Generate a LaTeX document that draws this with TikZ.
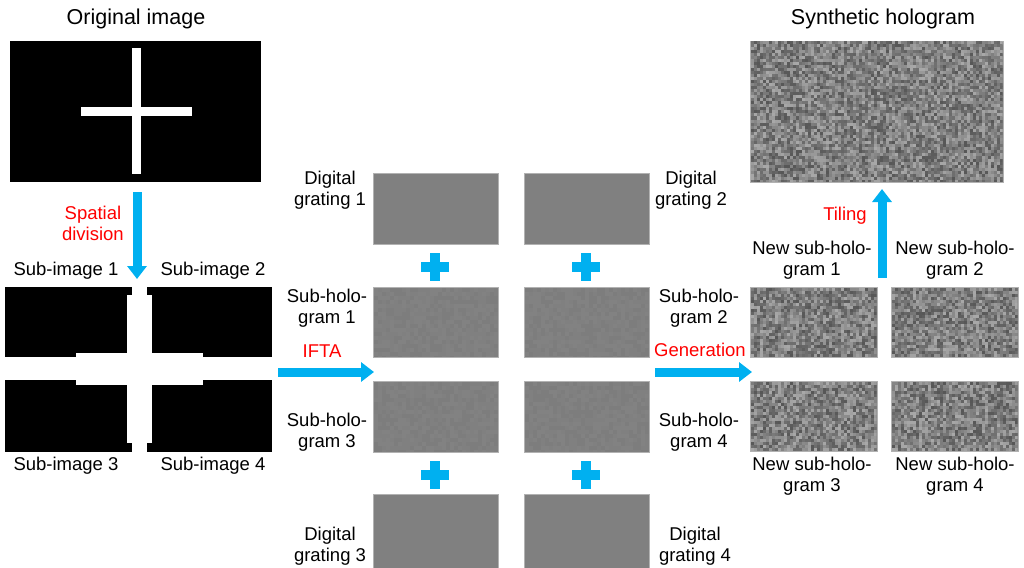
\documentclass[tikz,border=0pt]{standalone}
\usepackage{fontspec}
\setmainfont{Liberation Sans}
\usetikzlibrary{arrows.meta}
\definecolor{arrowblue}{RGB}{0,176,240}
\definecolor{labred}{RGB}{255,0,0}
\newcommand\mynoise[7]{% x0 y0 w h lo hi cell
  \begin{scope}
    \clip (#1,#2) rectangle ++(#3,#4);
    \foreach \i in {0,#7,...,#3} {
      \foreach \j in {0,#7,...,#4} {
        \pgfmathrandominteger{\g}{#5}{#6}
        \fill[black!\g] (#1+\i,#2+\j) rectangle ++(#7+0.3,#7+0.3);
      }
    }
  \end{scope}}
\begin{document}
\begin{tikzpicture}[x=1pt,y=-1pt,
  lab/.style={font=\fontsize{18.5}{21}\selectfont, align=center, inner sep=0pt},
  ttl/.style={font=\fontsize{21.5}{24}\selectfont, inner sep=0pt},
  redlab/.style={lab, text=labred},
  img/.style={inner sep=0pt, outer sep=0pt, anchor=north west},
  blk/.style={img, fill=black},
  grayimg/.style={img, fill=black!50, draw=black!30, line width=0.8pt},
  bigarrow/.style={draw=arrowblue, line width=9pt, -{Triangle[length=13pt 0 0,width=19pt 0 0]}},
  plus/.style={minimum size=28pt, inner sep=0pt, path picture={
     \fill[arrowblue] ([xshift=-14pt,yshift=5pt]path picture bounding box.center) rectangle ++(28,10);
     \fill[arrowblue] ([xshift=-5pt,yshift=14pt]path picture bounding box.center) rectangle ++(10,28);}}
]
\useasboundingbox (0,0) rectangle (1024,567);
\pgfmathsetseed{7}

% Titles
\node[ttl] (t1) at (136,19) {Original image};
\node[ttl] (t2) at (883,19) {Synthetic hologram};

% Original image
\node[blk, minimum width=251pt, minimum height=141pt] (orig) at (10,41) {};
\fill[white] (132,48) rectangle (141,174);
\fill[white] (81,107) rectangle (192,116);

% Spatial division arrow
\coordinate (d1) at (137,192);
\coordinate (d2) at (137,279);
\draw[bigarrow] (d1) -- (d2);
\node[redlab, anchor=east] (sd) at (124,223) {Spatial\\division};

% Sub-images
\node[lab] (si1) at (66,271) {Sub-image 1};
\node[lab] (si2) at (213,271) {Sub-image 2};
\node[lab] (si3) at (66,466) {Sub-image 3};
\node[lab] (si4) at (213,466) {Sub-image 4};
\node[blk, minimum width=127pt, minimum height=70pt] (s1) at (5,287) {};
\node[blk, minimum width=125pt, minimum height=70pt] (s2) at (147,287) {};
\node[blk, minimum width=127pt, minimum height=72pt] (s3) at (5,380) {};
\node[blk, minimum width=125pt, minimum height=72pt] (s4) at (147,380) {};
\fill[white] (127,295) rectangle (132,357);
\fill[white] (76,353) rectangle (132,357);
\fill[white] (147,295) rectangle (152,357);
\fill[white] (147,353) rectangle (203,357);
\fill[white] (76,380) rectangle (132,385);
\fill[white] (127,380) rectangle (132,443);
\fill[white] (147,380) rectangle (203,385);
\fill[white] (147,380) rectangle (152,443);

% IFTA arrow
\coordinate (i1) at (278,372);
\coordinate (i2) at (374,372);
\draw[bigarrow] (i1) -- (i2);
\node[redlab] (ifta) at (322,351) {IFTA};

% Middle column images
\node[grayimg, minimum width=125pt, minimum height=71pt] (dg1) at (373,173) {};
\node[grayimg, minimum width=125pt, minimum height=71pt] (dg2) at (524,173) {};
\node[grayimg, minimum width=125pt, minimum height=70pt] (sh1) at (373,287) {};
\node[grayimg, minimum width=125pt, minimum height=70pt] (sh2) at (524,287) {};
\node[grayimg, minimum width=125pt, minimum height=71pt] (sh3) at (373,381) {};
\node[grayimg, minimum width=125pt, minimum height=71pt] (sh4) at (524,381) {};
\node[grayimg, minimum width=125pt, minimum height=74pt] (dg3) at (373,494) {};
\node[grayimg, minimum width=125pt, minimum height=74pt] (dg4) at (524,494) {};
\mynoise{373.5}{287.5}{124}{69}{49}{51}{4}
\mynoise{524.5}{287.5}{124}{69}{49}{51}{4}
\mynoise{373.5}{381.5}{124}{70}{49}{51}{4}
\mynoise{524.5}{381.5}{124}{70}{49}{51}{4}

\node[plus] (p1) at (435,267) {};
\node[plus] (p2) at (586,267) {};
\node[plus] (p3) at (435,475) {};
\node[plus] (p4) at (586,475) {};

\node[lab] (ldg1) at (330,190) {Digital\\grating 1};
\node[lab] (lsh1) at (327,308) {Sub-holo-\\gram 1};
\node[lab] (lsh3) at (327,432) {Sub-holo-\\gram 3};
\node[lab] (ldg3) at (330,546) {Digital\\grating 3};
\node[lab] (ldg2) at (691,190) {Digital\\grating 2};
\node[lab] (lsh2) at (699,308) {Sub-holo-\\gram 2};
\node[lab] (lsh4) at (699,432) {Sub-holo-\\gram 4};
\node[lab] (ldg4) at (695,546) {Digital\\grating 4};

% Generation arrow
\coordinate (g1) at (655,372);
\coordinate (g2) at (752,372);
\draw[bigarrow] (g1) -- (g2);
\node[redlab] (gen) at (700,350) {Generation};

% New sub-holograms
\node[grayimg, minimum width=127pt, minimum height=70pt] (n1) at (750,287) {};
\node[grayimg, minimum width=127pt, minimum height=70pt] (n2) at (891,287) {};
\node[grayimg, minimum width=127pt, minimum height=70pt] (n3) at (750,381) {};
\node[grayimg, minimum width=127pt, minimum height=70pt] (n4) at (891,381) {};
\mynoise{750.5}{287.5}{126}{69}{34}{66}{3}
\mynoise{891.5}{287.5}{126}{69}{34}{66}{3}
\mynoise{750.5}{381.5}{126}{69}{34}{66}{3}
\mynoise{891.5}{381.5}{126}{69}{34}{66}{3}
\node[lab] (ln1) at (812,260) {New sub-holo-\\gram 1};
\node[lab] (ln2) at (955,260) {New sub-holo-\\gram 2};
\node[lab] (ln3) at (812,476) {New sub-holo-\\gram 3};
\node[lab] (ln4) at (955,476) {New sub-holo-\\gram 4};

% Synthetic hologram
\node[grayimg, minimum width=253pt, minimum height=141pt] (syn) at (750,41) {};
\mynoise{750.5}{41.5}{252}{140}{34}{66}{3}

% Tiling arrow
\coordinate (tl1) at (882,278);
\coordinate (tl2) at (882,189);
\draw[bigarrow] (tl1) -- (tl2);
\node[redlab] (til) at (845,216) {Tiling};
\end{tikzpicture}
\end{document}
